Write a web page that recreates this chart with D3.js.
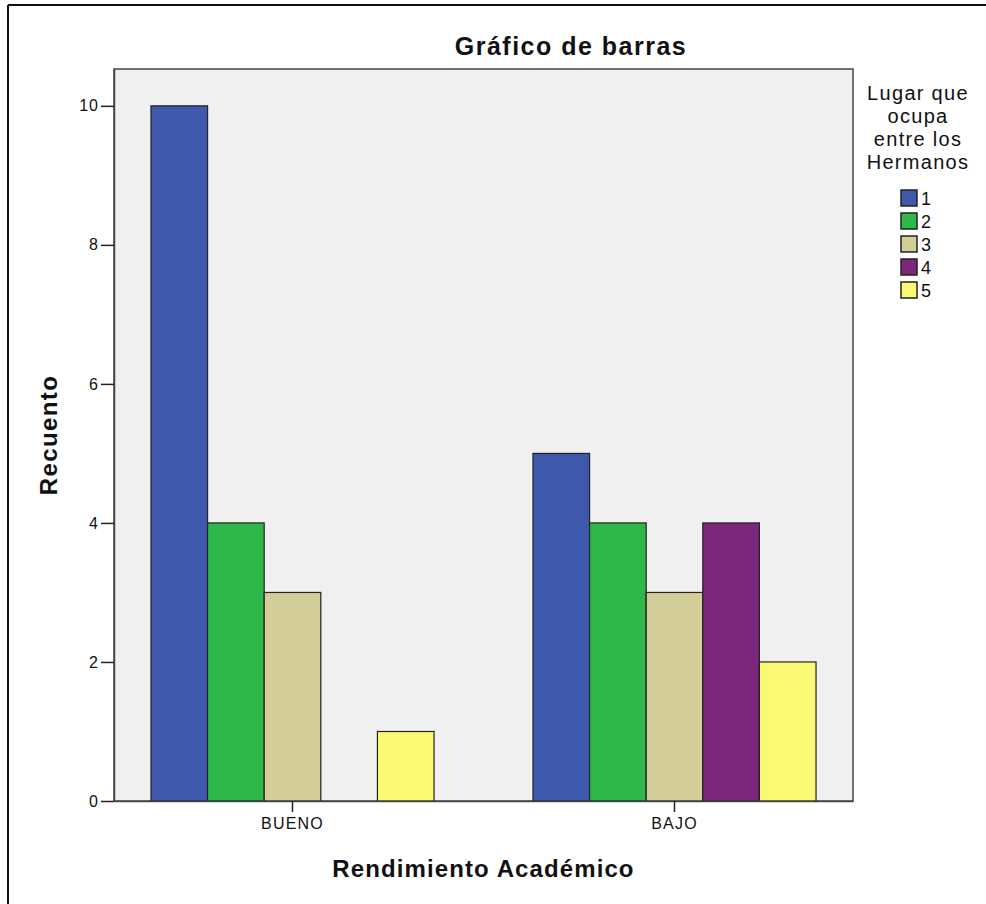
<!DOCTYPE html>
<html>
<head>
<meta charset="utf-8">
<script src="https://cdn.jsdelivr.net/npm/d3@7"></script>
<style>
  html, body { margin: 0; padding: 0; background: #fff; }
  svg { display: block; font-family: "Liberation Sans", Arial, sans-serif; }
</style>
</head>
<body>
<svg id="chart" width="986" height="904"></svg>
<script>
const categories = ["BUENO", "BAJO"];
const seriesKeys = ["1", "2", "3", "4", "5"];
const seriesColors = ["#3e58ac", "#2eb84a", "#d3ce97", "#7b287b", "#fbf873"];
const values = {
  "BUENO": [10, 4, 3, 0, 1],
  "BAJO":  [5, 4, 3, 4, 2]
};
const yTicks = [0, 2, 4, 6, 8, 10];
const titleText = "Gráfico de barras";
const xTitle = "Rendimiento Académico";
const yTitle = "Recuento";
const legendTitle = ["Lugar que", "ocupa", "entre los", "Hermanos"];

const svg = d3.select("#chart");

// outer frame (top and left visible)
svg.append("line").attr("x1", 8).attr("y1", 5).attr("x2", 986).attr("y2", 5)
  .attr("stroke", "#111").attr("stroke-width", 2);
svg.append("line").attr("x1", 8).attr("y1", 5).attr("x2", 8).attr("y2", 904)
  .attr("stroke", "#111").attr("stroke-width", 2);

const plot = { left: 114, right: 853, top: 69, bottom: 801 };

const y = d3.scaleLinear().domain([0, 10.53]).range([plot.bottom, plot.top]);
const x0 = d3.scaleBand().domain(categories).range([plot.left, plot.right])
  .paddingInner(0.259).paddingOuter(0.0968);
const x1 = d3.scaleBand().domain(seriesKeys).range([0, x0.bandwidth()]);
const color = d3.scaleOrdinal().domain(seriesKeys).range(seriesColors);

// plot background
svg.append("rect")
  .attr("x", plot.left).attr("y", plot.top)
  .attr("width", plot.right - plot.left).attr("height", plot.bottom - plot.top)
  .attr("fill", "#f0f0f0").attr("stroke", "#444").attr("stroke-width", 1.5);

// bars
const groups = svg.append("g").selectAll("g").data(categories).join("g")
  .attr("transform", d => `translate(${x0(d)},0)`);
groups.selectAll("rect")
  .data(c => seriesKeys.map((k, i) => ({ key: k, value: values[c][i] })).filter(d => d.value > 0))
  .join("rect")
  .attr("x", d => x1(d.key))
  .attr("y", d => y(d.value))
  .attr("width", x1.bandwidth())
  .attr("height", d => y(0) - y(d.value))
  .attr("fill", d => color(d.key))
  .attr("stroke", "#222").attr("stroke-width", 1.2);

// y axis
const yAxis = svg.append("g").attr("transform", `translate(${plot.left},0)`)
  .call(d3.axisLeft(y).tickValues(yTicks).tickSize(13).tickSizeOuter(0).tickPadding(2).tickFormat(d3.format("d")));
yAxis.select(".domain").attr("stroke", "#444").attr("stroke-width", 1.5);
yAxis.selectAll(".tick line").attr("stroke", "#222").attr("stroke-width", 1.5);
yAxis.selectAll(".tick text").attr("font-size", 16).attr("fill", "#111")
  .attr("letter-spacing", 1).attr("font-family", "Liberation Sans, Arial, sans-serif");

// x axis
const xAxis = svg.append("g").attr("transform", `translate(0,${plot.bottom})`)
  .call(d3.axisBottom(x0).tickSize(11).tickPadding(6).tickSizeOuter(0));
xAxis.select(".domain").attr("stroke", "#444").attr("stroke-width", 1.5);
xAxis.selectAll(".tick line").attr("stroke", "#222").attr("stroke-width", 1.5);
xAxis.selectAll(".tick text").attr("font-size", 16).attr("fill", "#111")
  .attr("letter-spacing", 1.2).attr("font-family", "Liberation Sans, Arial, sans-serif");

// title
svg.append("text").attr("x", 571).attr("y", 55).attr("text-anchor", "middle")
  .attr("font-size", 25).attr("letter-spacing", 1.5).attr("font-weight", "bold")
  .attr("fill", "#111").text(titleText);

// axis titles
svg.append("text").attr("x", (plot.left + plot.right) / 2).attr("y", 877)
  .attr("text-anchor", "middle").attr("font-size", 24).attr("letter-spacing", 1.1)
  .attr("font-weight", "bold").attr("fill", "#111").text(xTitle);
svg.append("text")
  .attr("transform", `translate(57,${(plot.top + plot.bottom) / 2}) rotate(-90)`)
  .attr("text-anchor", "middle").attr("font-size", 24).attr("letter-spacing", 1.4)
  .attr("font-weight", "bold").attr("fill", "#111").text(yTitle);

// legend
const lg = svg.append("g");
lg.selectAll("text.lt").data(legendTitle).join("text").attr("class", "lt")
  .attr("x", 918).attr("y", (d, i) => 100 + i * 23)
  .attr("text-anchor", "middle").attr("font-size", 20).attr("letter-spacing", 1.3)
  .attr("fill", "#111").text(d => d);
const items = lg.selectAll("g.item").data(seriesKeys).join("g").attr("class", "item")
  .attr("transform", (d, i) => `translate(901,${190 + i * 23})`);
items.append("rect").attr("width", 16).attr("height", 16)
  .attr("fill", d => color(d)).attr("stroke", "#222").attr("stroke-width", 1.5);
items.append("text").attr("x", 20).attr("y", 15).attr("font-size", 18)
  .attr("fill", "#111").text(d => d);
</script>
</body>
</html>
